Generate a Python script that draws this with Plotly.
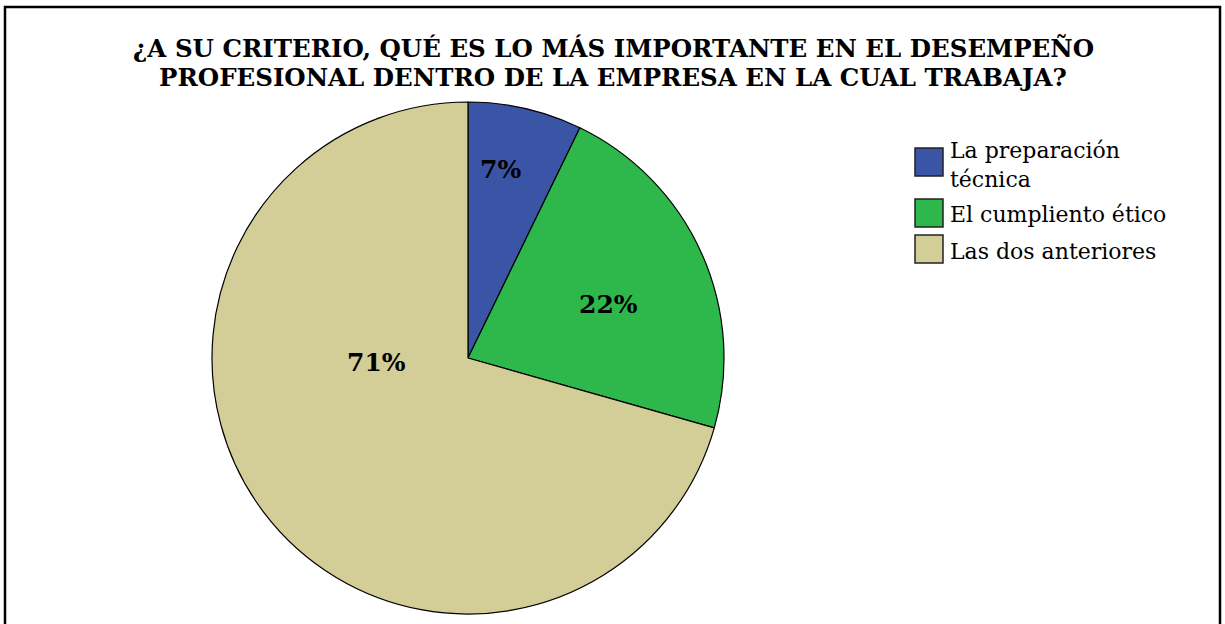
import plotly.graph_objects as go

W, H = 1225, 624

categories = ["La preparación<br>técnica", "El cumpliento ético", "Las dos anteriores"]
values = [7.2, 22.2, 70.6]
colors = ["#3A54A6", "#2EB84C", "#D3CD97"]

title_lines = ["¿A SU CRITERIO, QUÉ ES LO MÁS IMPORTANTE EN EL DESEMPEÑO",
               "PROFESIONAL DENTRO DE LA EMPRESA EN LA CUAL TRABAJA?"]

serif = "DejaVu Serif"

# posiciones en píxeles (estilo), no datos
label_pos = [(500, 170), (608, 304), (376, 362)]
legend_box_y = [(148, 176), (199, 227), (235, 263)]
legend_text_y = [165, 214, 251]


def px(x, y):
    return x / W, 1 - y / H


fig = go.Figure()
fig.add_trace(go.Pie(
    labels=categories,
    values=values,
    sort=False,
    direction="clockwise",
    rotation=0,
    marker=dict(colors=colors, line=dict(color="#000000", width=1.2)),
    textinfo="none",
    domain=dict(x=[212 / W, 724 / W], y=[1 - 614 / H, 1 - 102 / H]),
    hoverinfo="label+percent",
    showlegend=False,
))

total = sum(values)
annotations = []
# etiquetas de porcentaje
for v, (lx, ly) in zip(values, label_pos):
    x, y = px(lx, ly)
    annotations.append(dict(
        x=x, y=y, xref="paper", yref="paper", showarrow=False,
        text=f"<b>{round(100 * v / total)}%</b>",
        font=dict(family=serif, size=25, color="#000000"),
        xanchor="center", yanchor="middle"))

# título
for i, line in enumerate(title_lines):
    x, y = px(613, 49 + 28 * i)
    annotations.append(dict(
        x=x, y=y, xref="paper", yref="paper", showarrow=False,
        text=f"<b>{line}</b>",
        font=dict(family=serif, size=24.5, color="#000000"),
        xanchor="center", yanchor="middle"))

# leyenda
shapes = []
for cat, col, (y0, y1), ty in zip(categories, colors, legend_box_y, legend_text_y):
    shapes.append(dict(type="rect", xref="paper", yref="paper",
                       x0=915 / W, x1=943 / W, y0=1 - y1 / H, y1=1 - y0 / H,
                       fillcolor=col, line=dict(color="#222222", width=1.5)))
    x, y = px(948, ty)
    annotations.append(dict(
        x=x, y=y, xref="paper", yref="paper", showarrow=False,
        text=cat, align="left",
        font=dict(family=serif, size=22, color="#000000"),
        xanchor="left", yanchor="middle"))

# marco del gráfico
shapes.append(dict(type="rect", xref="paper", yref="paper",
                   x0=5 / W, x1=1220 / W, y0=-0.05, y1=1 - 7 / H,
                   line=dict(color="#000000", width=2.5), layer="above"))

fig.update_layout(
    width=W, height=H,
    margin=dict(l=0, r=0, t=0, b=0),
    paper_bgcolor="white",
    plot_bgcolor="white",
    annotations=annotations,
    shapes=shapes,
    showlegend=False,
)

fig.write_html("out.html", config={"displayModeBar": False},
               post_script="document.body.style.margin='0';")
